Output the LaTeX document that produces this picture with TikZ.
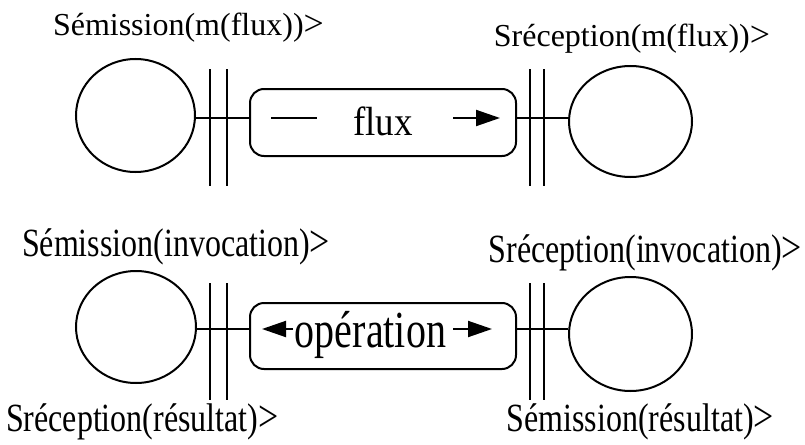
\documentclass[tikz,border=0pt]{standalone}
\usepackage{fontspec}
\setmainfont{Liberation Serif}
\usetikzlibrary{shapes.geometric,arrows.meta}
\newcommand{\lbl}[2]{\fontsize{32}{36}\selectfont\scalebox{1}[#1]{#2}}
\newcommand{\gt}{\scalebox{1.12}{>}}
\begin{document}
\begin{tikzpicture}[x=1pt,y=-1pt,
  line width=2pt,
  port/.style={draw,ellipse,inner sep=0pt},
  connbox/.style={draw,rounded corners=14pt,inner sep=0pt,minimum width=266pt,minimum height=67pt},
  label/.style={anchor=base west,inner sep=0pt},
  rlabel/.style={anchor=base east,inner sep=0pt},
  boxtext/.style={anchor=base,inner sep=0pt},
  tip/.style={-{Triangle[length=24pt,width=16pt]}}]
\useasboundingbox (0,0) rectangle (805,444);

% ---- flux connector ----
\node[port,minimum width=119pt,minimum height=113pt] (c1) at (135.5,115.5) {};
\node[port,minimum width=123pt,minimum height=111pt] (c2) at (630.5,121.5) {};
\node[connbox] (b1) at (383,122.5) {};
\coordinate (l1) at (0,118);
\draw (c1.east |- l1) -- (b1.west |- l1);
\draw (b1.east |- l1) -- (c2.west |- l1);
% guards
\coordinate (g1a) at (210,69);  \coordinate (g1b) at (210,186);
\coordinate (g2a) at (227,69);  \coordinate (g2b) at (227,186);
\coordinate (g3a) at (530,69);  \coordinate (g3b) at (530,186);
\coordinate (g4a) at (544,69);  \coordinate (g4b) at (544,186);
\draw (g1a) -- (g1b); \draw (g2a) -- (g2b);
\draw (g3a) -- (g3b); \draw (g4a) -- (g4b);
% flow inside the box
\node[boxtext] (t1) at (383,135) {\fontsize{37}{40}\selectfont\scalebox{1}[1.1]{flux}};
\coordinate (f1a) at (271,118); \coordinate (f1b) at (317,118);
\coordinate (f2a) at (453,118); \coordinate (f2b) at (500,118);
\draw (f1a) -- (f1b);
\draw[tip] (f2a) -- (f2b);

\node[label] (s1) at (52,36) {\lbl{1}{Sémission(m(flux))\gt}};
\node[rlabel] (s2) at (771,46) {\lbl{1}{Sréception(m(flux))\gt}};

% ---- operation connector ----
\node[port,minimum width=120pt,minimum height=112pt] (c3) at (136,327) {};
\node[port,minimum width=123pt,minimum height=114pt] (c4) at (630.5,334) {};
\node[connbox,minimum height=66pt] (b2) at (383,336) {};
\coordinate (l2) at (0,329);
\draw (c3.east |- l2) -- (b2.west |- l2);
\draw (b2.east |- l2) -- (c4.west |- l2);
\coordinate (h1a) at (210,283);  \coordinate (h1b) at (210,400);
\coordinate (h2a) at (227,283);  \coordinate (h2b) at (227,400);
\coordinate (h3a) at (530,283);  \coordinate (h3b) at (530,400);
\coordinate (h4a) at (544,283);  \coordinate (h4b) at (544,400);
\draw (h1a) -- (h1b); \draw (h2a) -- (h2b);
\draw (h3a) -- (h3b); \draw (h4a) -- (h4b);
\node[boxtext] (t2) at (370.5,347) {\fontsize{40}{44}\selectfont\scalebox{1}[1.3]{opération}};
\coordinate (o1a) at (293,329); \coordinate (o1b) at (262,329);
\coordinate (o2a) at (453,329); \coordinate (o2b) at (492,329);
\draw[tip] (o1a) -- (o1b);
\draw[tip] (o2a) -- (o2b);

\node[label] (s3) at (21,256) {\lbl{1.25}{Sémission(invocation)\gt}};
\node[rlabel] (s4) at (803,262) {\lbl{1.25}{Sréception(invocation)\gt}};
\node[label] (s5) at (5,431) {\lbl{1.25}{Sréception(résultat)\gt}};
\node[rlabel] (s6) at (775,431) {\lbl{1.25}{Sémission(résultat)\gt}};
\end{tikzpicture}
\end{document}
